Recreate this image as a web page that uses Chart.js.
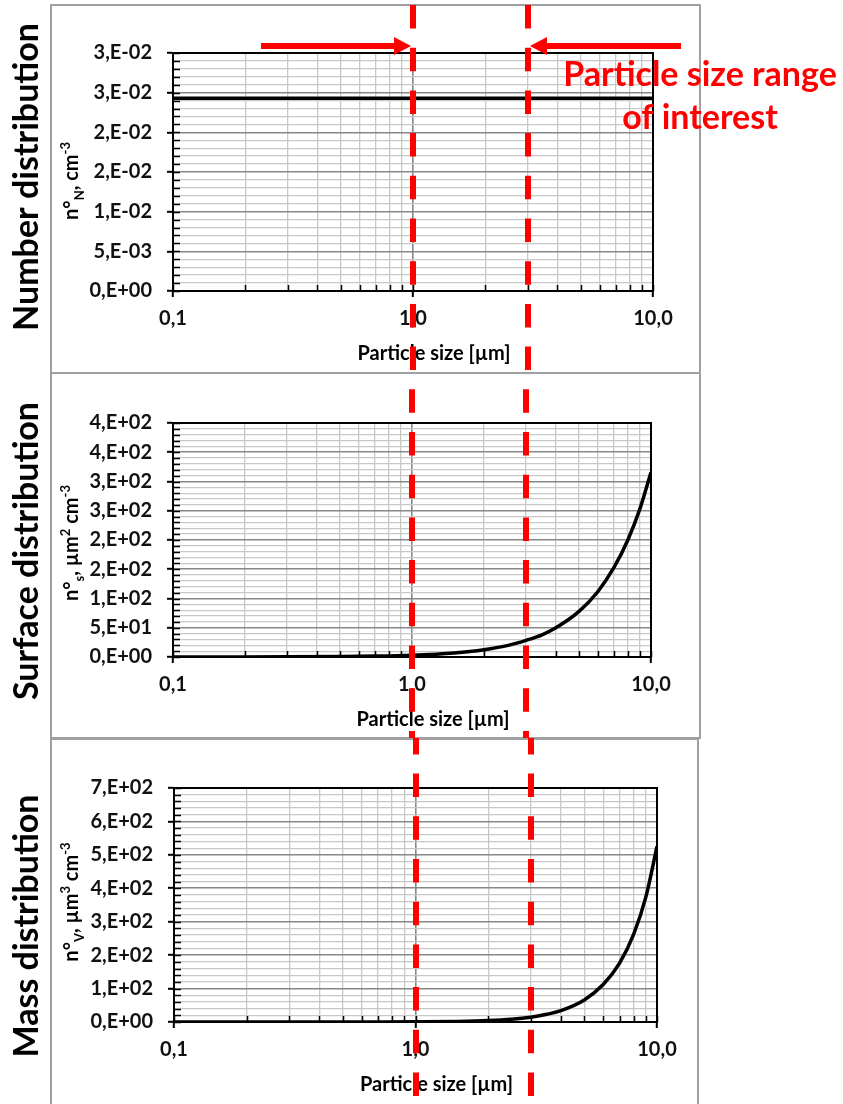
<!DOCTYPE html>
<html>
<head>
<meta charset="utf-8">
<script src="https://cdn.jsdelivr.net/npm/chart.js@4.4.1/dist/chart.umd.min.js"></script>
<style>
    html, body { margin: 0; padding: 0; background: #fff; overflow: hidden; }
    body { width: 843px; height: 1104px; position: relative; }
    canvas { position: absolute; left: 0; }
</style>
</head>
<body>
<canvas id="number-chart" width="843" height="374" style="top:0px"></canvas>
<canvas id="surface-chart" width="843" height="366" style="top:373px"></canvas>
<canvas id="mass-chart" width="843" height="366" style="top:738px"></canvas>
<script>
// particle size [µm], shared by the three panels
var sizes = [0.1, 0.2, 0.3, 0.5, 0.7, 1, 1.5, 2, 2.5, 3, 3.5, 4, 5, 6, 7, 8, 9, 10];

// values
var numberValues = [0.0243, 0.0243, 0.0243, 0.0243, 0.0243, 0.0243, 0.0243, 0.0243, 0.0243,
                    0.0243, 0.0243, 0.0243, 0.0243, 0.0243, 0.0243, 0.0243, 0.0243, 0.0243];
var surfaceValues = [0.03, 0.13, 0.28, 0.8, 1.5, 3.1, 7, 12.5, 19.5, 28.5, 38, 50, 78, 112, 153, 200, 254, 316];
var massValues = [0.0005, 0.004, 0.015, 0.07, 0.19, 0.55, 1.8, 4.3, 8.4, 14.5, 23, 34, 66, 113, 176, 262, 375, 525];

// log x axis: grid positions and labels
var xGridValues = [0.1, 0.2, 0.3, 0.4, 0.5, 0.6, 0.7, 0.8, 0.9, 1, 2, 3, 4, 5, 6, 7, 8, 9, 10];
var xMajorValues = [0.1, 1, 10];
var xMajorLabels = ['0,1', '1,0', '10,0'];

// y axes labels (Excel style rounding)
var numberTicks = ['0,E+00', '5,E-03', '1,E-02', '2,E-02', '2,E-02', '3,E-02', '3,E-02'];
var surfaceTicks = ['0,E+00', '5,E+01', '1,E+02', '2,E+02', '2,E+02', '3,E+02', '3,E+02', '4,E+02', '4,E+02'];
var massTicks = ['0,E+00', '1,E+02', '2,E+02', '3,E+02', '4,E+02', '5,E+02', '6,E+02', '7,E+02'];

// particle size range of interest [µm]
var rangeOfInterest = [1, 3];

var FONT = 'Lato';
var RED = '#ff0000';

function buildLinearTicks(max, majorStep, minorStep) {
    var ticks = [];
    var n = Math.round(max / minorStep);
    var every = Math.round(majorStep / minorStep);
    for (var i = 0; i <= n; i++) {
        ticks.push({ value: i * minorStep, major: i % every === 0 });
    }
    return ticks;
}

function drawRich(ctx, segs, size) {
    // draws centred on 0,0 (ctx already translated/rotated)
    var total = 0;
    segs.forEach(function (s) {
        ctx.font = 'bold ' + ((s.sub || s.sup) ? size * 0.65 : size) + 'px ' + FONT;
        total += ctx.measureText(s.t).width;
    });
    var x = -total / 2;
    segs.forEach(function (s) {
        var fs = (s.sub || s.sup) ? size * 0.65 : size;
        ctx.font = 'bold ' + fs + 'px ' + FONT;
        var dy = s.sub ? size * 0.28 : (s.sup ? -size * 0.42 : 0);
        ctx.fillText(s.t, x, dy);
        x += ctx.measureText(s.t).width;
    });
}

var gridStyle = {
    color: function (c) { return c.tick && c.tick.major ? '#878787' : '#c8c8c8'; },
    lineWidth: function (c) { return c.tick && c.tick.major ? 1.6 : 1.3; },
    tickColor: function (c) { return c.tick && c.tick.major ? '#000' : 'rgba(0,0,0,0)'; },
    tickLength: 6,
    tickWidth: 2
};

var panelDecor = {
    id: 'panelDecor',
    beforeDraw: function (chart, args, o) {
        var ctx = chart.ctx;
        ctx.save();
        ctx.strokeStyle = '#a0a0a0';
        ctx.lineWidth = 2;
        ctx.strokeRect(o.frame[0], o.frame[1], o.frame[2], o.frame[3]);
        ctx.restore();
    },
    afterDraw: function (chart, args, o) {
        var ctx = chart.ctx;
        var area = chart.chartArea;
        var xs = chart.scales.x, ys = chart.scales.y;
        ctx.save();

        // plot frame
        ctx.strokeStyle = '#000';
        ctx.lineWidth = 2;
        ctx.strokeRect(area.left, area.top, area.right - area.left, area.bottom - area.top);

        // inside tick marks
        ctx.lineWidth = 1.5;
        ctx.beginPath();
        xs.ticks.forEach(function (t) {
            var px = Math.round(xs.getPixelForValue(t.value)) + 0.5;
            ctx.moveTo(px, area.bottom);
            ctx.lineTo(px, area.bottom - 6);
        });
        ys.ticks.forEach(function (t) {
            var py = Math.round(ys.getPixelForValue(t.value)) + 0.5;
            ctx.moveTo(area.left, py);
            ctx.lineTo(area.left + 7, py);
        });
        ctx.stroke();

        // panel title
        ctx.fillStyle = '#000';
        ctx.textAlign = 'center';
        ctx.textBaseline = 'alphabetic';
        ctx.save();
        ctx.translate(38, o.titleY);
        ctx.rotate(-Math.PI / 2);
        ctx.font = 'bold 34px ' + FONT;
        ctx.fillText(o.title, 0, 0);
        ctx.restore();

        // y axis title
        ctx.save();
        ctx.textAlign = 'left';
        ctx.translate(78, (area.top + area.bottom) / 2 + o.yTitleShift);
        ctx.rotate(-Math.PI / 2);
        drawRich(ctx, o.yTitle, 20);
        ctx.restore();

        // x axis title
        ctx.font = 'bold 20px ' + FONT;
        ctx.textBaseline = 'middle';
        ctx.fillText('Particle size [µm]', (area.left + area.right) / 2 + 21, area.bottom + 63);

        // range of interest, dashed lines across the page
        ctx.strokeStyle = RED;
        ctx.lineWidth = 6;
        ctx.setLineDash([23.5, 19.2]);
        ctx.lineDashOffset = o.pageTop - 5;
        rangeOfInterest.forEach(function (v) {
            var px = Math.round(xs.getPixelForValue(v));
            ctx.beginPath();
            ctx.moveTo(px, 0);
            ctx.lineTo(px, chart.height);
            ctx.stroke();
        });
        ctx.setLineDash([]);

        if (o.annotate) {
            var y = 46;
            var left = Math.round(xs.getPixelForValue(rangeOfInterest[0])) - 2;
            var right = Math.round(xs.getPixelForValue(rangeOfInterest[1])) + 2;
            ctx.fillStyle = RED;
            // left arrow
            ctx.fillRect(left - 150, y - 3, 135, 6);
            ctx.beginPath();
            ctx.moveTo(left, y);
            ctx.lineTo(left - 17, y - 9);
            ctx.lineTo(left - 17, y + 9);
            ctx.closePath();
            ctx.fill();
            // right arrow
            ctx.fillRect(right + 15, y - 3, 136, 6);
            ctx.beginPath();
            ctx.moveTo(right, y);
            ctx.lineTo(right + 17, y - 9);
            ctx.lineTo(right + 17, y + 9);
            ctx.closePath();
            ctx.fill();

            ctx.font = 'bold 34px ' + FONT;
            ctx.textAlign = 'center';
            ctx.textBaseline = 'alphabetic';
            ctx.fillText('Particle size range', 700, 86);
            ctx.fillText('of interest', 700, 129);
        }
        ctx.restore();
    }
};

function makePanel(id, values, yMax, majorStep, minorStep, yLabels, deco, plot) {
    var canvas = document.getElementById(id);
    var H = canvas.height;
    var yAxisWidth = 120, xAxisHeight = 45;

    return new Chart(canvas, {
        type: 'line',
        data: {
            datasets: [{
                data: sizes.map(function (s, i) { return { x: s, y: values[i] }; }),
                borderColor: '#000',
                borderWidth: 3.5,
                pointRadius: 0,
                cubicInterpolationMode: 'monotone',
                fill: false
            }]
        },
        plugins: [panelDecor],
        options: {
            responsive: false,
            animation: false,
            events: [],
            layout: {
                padding: {
                    left: plot.left - yAxisWidth,
                    right: canvas.width - plot.right,
                    top: plot.top,
                    bottom: H - plot.bottom - xAxisHeight
                }
            },
            plugins: {
                legend: { display: false },
                tooltip: { enabled: false },
                panelDecor: deco
            },
            scales: {
                x: {
                    type: 'logarithmic',
                    min: 0.1,
                    max: 10,
                    afterBuildTicks: function (scale) {
                        scale.ticks = xGridValues.map(function (v) {
                            return { value: v, major: xMajorValues.indexOf(v) >= 0 };
                        });
                    },
                    afterFit: function (scale) { scale.height = xAxisHeight; },
                    ticks: {
                        autoSkip: false,
                        maxRotation: 0,
                        padding: 10,
                        color: '#111',
                        font: { family: FONT, size: 20, weight: 'bold' },
                        callback: function (v, i, t) {
                            var k = xMajorValues.indexOf(t[i].value);
                            return k >= 0 ? xMajorLabels[k] : '';
                        }
                    },
                    grid: gridStyle,
                    border: { color: '#000', width: 2 }
                },
                y: {
                    min: 0,
                    max: yMax,
                    afterBuildTicks: function (scale) {
                        scale.ticks = buildLinearTicks(yMax, majorStep, minorStep);
                    },
                    afterFit: function (scale) { scale.width = yAxisWidth; },
                    ticks: {
                        autoSkip: false,
                        padding: 15,
                        color: '#111',
                        font: { family: FONT, size: 20, weight: 'bold' },
                        callback: function (v, i, t) {
                            return t[i].major ? yLabels[Math.round(t[i].value / majorStep)] : '';
                        }
                    },
                    grid: gridStyle,
                    border: { color: '#000', width: 2 }
                }
            }
        }
    });
}

// Number distribution
var numberChart = makePanel('number-chart', numberValues, 0.03, 0.005, 0.001, numberTicks, {
    pageTop: 0,
    frame: [51, 5, 649, 368],
    titleY: 177,
    title: 'Number distribution',
    yTitle: [{ t: 'n°' }, { t: 'N', sub: true }, { t: ', cm' }, { t: '-3', sup: true }],
    yTitleShift: 9,
    annotate: true
}, { left: 173, right: 653, top: 53, bottom: 291 });

// Surface distribution
var surfaceChart = makePanel('surface-chart', surfaceValues, 400, 50, 10, surfaceTicks, {
    pageTop: 373,
    frame: [51, 0, 649, 365],
    titleY: 178,
    title: 'Surface distribution',
    yTitle: [{ t: 'n°' }, { t: 's', sub: true }, { t: ', µm' }, { t: '2', sup: true }, { t: ' cm' }, { t: '-3', sup: true }],
    yTitleShift: 3,
    annotate: false
}, { left: 173, right: 651, top: 50, bottom: 284 });

// Mass distribution
var massChart = makePanel('mass-chart', massValues, 700, 100, 20, massTicks, {
    pageTop: 738,
    frame: [51, 1, 647, 400],
    titleY: 188,
    title: 'Mass distribution',
    yTitle: [{ t: 'n°' }, { t: 'V', sub: true }, { t: ', µm' }, { t: '3', sup: true }, { t: ' cm' }, { t: '-3', sup: true }],
    yTitleShift: -3,
    annotate: false
}, { left: 174, right: 657, top: 50, bottom: 284 });
</script>
</body>
</html>
